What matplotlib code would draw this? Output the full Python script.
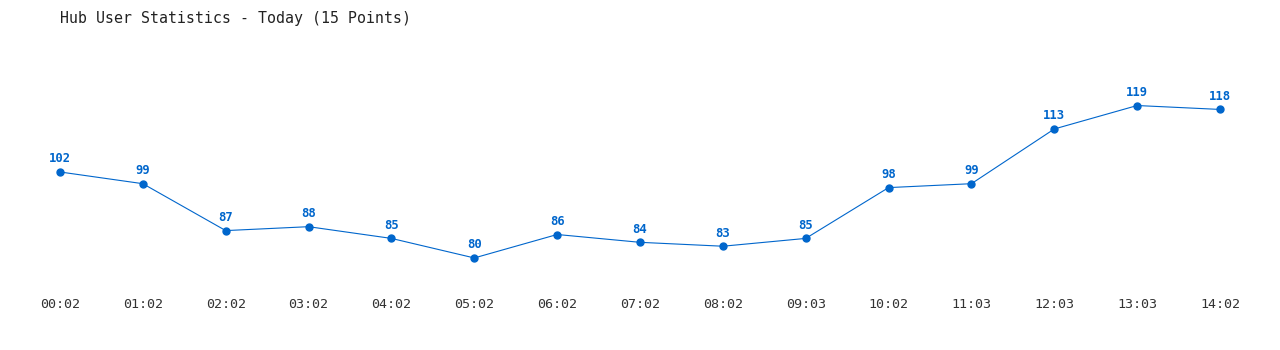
import matplotlib

matplotlib.use("Agg")
import matplotlib.pyplot as plt

TIMES = ["00:02", "01:02", "02:02", "03:02", "04:02", "05:02", "06:02", "07:02",
         "08:02", "09:03", "10:02", "11:03", "12:03", "13:03", "14:02"]
USERS = [102, 99, 87, 88, 85, 80, 86, 84, 83, 85, 98, 99, 113, 119, 118]

BLUE = "#0066cc"
MONO = "DejaVu Sans Mono"

fig = plt.figure(figsize=(12.8, 3.5), dpi=100)
ax = fig.add_axes([0, 60 / 350, 1, 290 / 350])

x = list(range(len(USERS)))
ax.plot(x, USERS, color=BLUE, lw=0.8, marker="o", ms=5, zorder=3)
for xi, v in zip(x, USERS):
    ax.annotate(str(v), (xi, v), xytext=(0, 9.5), textcoords="offset points",
                ha="center", va="center", fontsize=8.8, fontweight="bold",
                color=BLUE, family=MONO)

# pixel-matched limits (60px..1220px across, 3.9px per user)
ax.set_xlim(-0.724, 14.724)
ax.set_ylim(71.8, 146.0)
ax.set_xticks(x)
ax.set_xticklabels(TIMES, family=MONO, fontsize=9.6, color="#333333")
ax.tick_params(axis="x", length=0, pad=6)
ax.set_yticks([])
for s in ax.spines.values():
    s.set_visible(False)

fig.text(60 / 1280, 1 - 18 / 350, "Hub User Statistics - Today (15 Points)",
         family=MONO, fontsize=10.7, color="#222222", ha="left", va="center")

fig.savefig("out.png", dpi=100)
